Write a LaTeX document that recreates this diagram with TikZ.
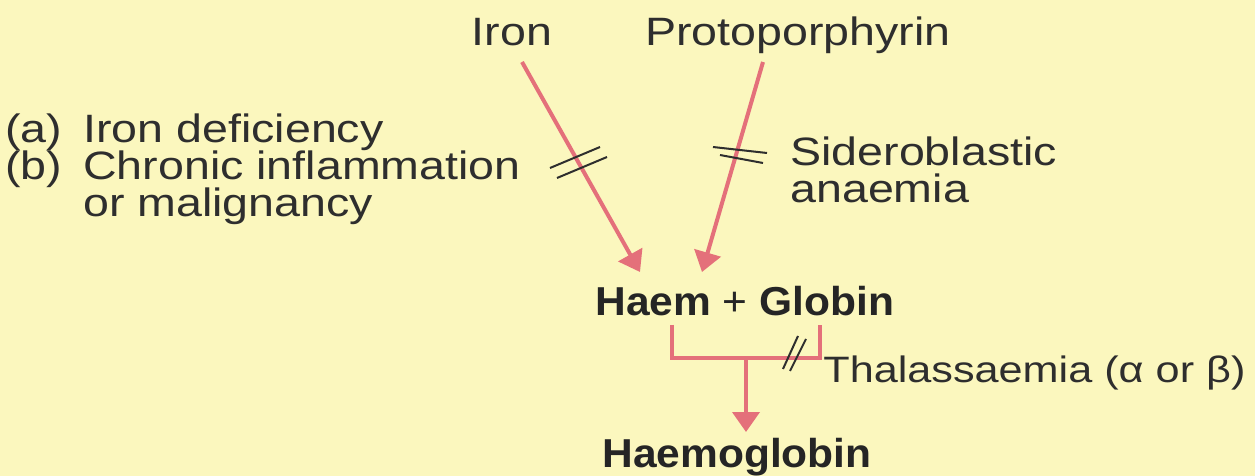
\documentclass[tikz,border=0pt]{standalone}
\usepackage{fontspec}
\setmainfont{Liberation Sans}
\usetikzlibrary{arrows.meta,calc}
\definecolor{paper}{HTML}{FBF7BE}
\definecolor{feedred}{HTML}{E4707A}
\definecolor{inkgray}{HTML}{2E2E2E}

\begin{document}
\begin{tikzpicture}[
    x=0.02cm,y=-0.02cm,
    word/.style={font=\fontsize{26.5}{30}\selectfont, text=inkgray, inner sep=0pt, yscale=0.85},
    boldword/.style={font=\fontsize{24.2}{30}\selectfont\bfseries, text=inkgray!80!black, inner sep=0pt, yscale=0.95},
    feed/.style={-{Triangle[length=0.40cm,width=0.54cm]}, line width=0.08cm, draw=feedred},
    bar/.style={line width=0.08cm, draw=feedred},
    cut/.style={line width=0.04cm, draw=inkgray}
]
\fill[paper] (0,0) rectangle (1255,476);
\useasboundingbox (0,0) rectangle (1255,476);

% Precursors
\node[word, anchor=base] (iron)  at (512,46) {Iron};
\node[word, anchor=base] (proto) at (798,46) {Protoporphyrin};

% Causes of a block
\node[word, anchor=base west] (taga)       at (5,143)  {(a)};
\node[word, anchor=base west] (deficiency) at (83,143) {Iron deficiency};
\node[word, anchor=base west] (tagb)       at (5,180)  {(b)};
\node[word, anchor=base west] (chronic)    at (83,180) {Chronic inflammation};
\node[word, anchor=base west] (malign)     at (83,217) {or malignancy};
\node[word, anchor=base west] (sidero)     at (790,166) {Sideroblastic};
\node[word, anchor=base west] (anaemia)    at (790,203) {anaemia};

% Products
\node[boldword, anchor=base west] (hg) at (595,316) {Haem {\mdseries +} Globin};
\node[word, font=\fontsize{24.6}{30}\selectfont, anchor=base west] (thal) at (823,382) {Thalassaemia (α or β)};
\node[boldword, anchor=base west] (hb) at (602,467) {Haemoglobin};

% Feeds into haem
\draw[feed] ($(iron.base)+(10,16)$) -- ($(hg.base west)+(45,-44)$);
\draw[feed] ($(proto.base)+(-35,16)$) -- ($(hg.base west)+(107,-44)$);

% Bracket to haemoglobin
\coordinate (haemfoot)   at ($(hg.base west)+(77,9)$);
\coordinate (globinfoot) at ($(hg.base west)+(225,9)$);
\coordinate (join) at ($(haemfoot)!0.5!(globinfoot)+(0,33)$);
\draw[bar] (haemfoot) -- ++(0,33) -| (globinfoot);
\draw[feed] (join) -- ($(hb.base west)+(144,-35)$);

% Blocks
\draw[cut] (550,168) -- (600,147);
\draw[cut] (557,178) -- (607,157);
\draw[cut] (713,147) -- (767,153);
\draw[cut] (720,155) -- (763,163);
\draw[cut] (783,369) -- (798,336);
\draw[cut] (790,371) -- (806,339);

\end{tikzpicture}
\end{document}
